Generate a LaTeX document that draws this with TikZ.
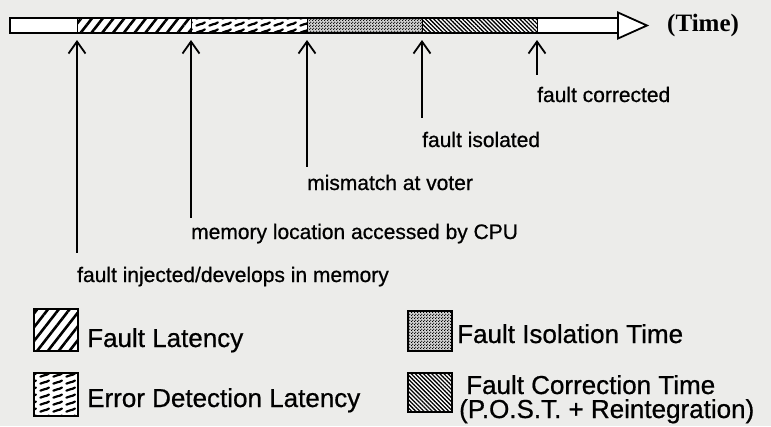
\documentclass[tikz,border=0pt]{standalone}
\usepackage{fontspec}
\setmainfont{Liberation Sans}[FakeBold=0.7]
\newfontfamily\timefont{Liberation Serif}
\usetikzlibrary{arrows.meta,patterns,patterns.meta}

\definecolor{paper}{RGB}{236,236,234}

% short wavy dashes (error detection latency)
\pgfdeclarepatternformonly{detectdash}{\pgfqpoint{0pt}{0pt}}{\pgfqpoint{13pt}{7pt}}{\pgfqpoint{13pt}{7pt}}{
  \pgfsetlinewidth{2.4pt}\pgfsetroundcap
  \pgfpathmoveto{\pgfqpoint{1.5pt}{1.5pt}}
  \pgfpathcurveto{\pgfqpoint{4pt}{3.8pt}}{\pgfqpoint{7pt}{2.2pt}}{\pgfqpoint{10.5pt}{5pt}}
  \pgfusepath{stroke}
}
% stipple (fault isolation time)
\pgfdeclarepatternformonly{isodots}{\pgfqpoint{0pt}{0pt}}{\pgfqpoint{3pt}{3pt}}{\pgfqpoint{3pt}{3pt}}{
  \pgfpathcircle{\pgfqpoint{0.75pt}{0.75pt}}{0.85pt}
  \pgfpathcircle{\pgfqpoint{2.25pt}{2.25pt}}{0.85pt}
  \pgfusepath{fill}
}

\begin{document}
\begin{tikzpicture}[x=1pt,y=-1pt]

  \tikzstyle{latency}=[preaction={fill=white},pattern={Lines[angle=52,distance=8.5pt,line width=2.6pt]}]
  \tikzstyle{detect}=[preaction={fill=white},pattern=detectdash]
  \tikzstyle{isolate}=[preaction={fill=gray!35},pattern=isodots]
  \tikzstyle{correct}=[preaction={fill=white},pattern={Lines[angle=-45,distance=2.9pt,line width=1.3pt]}]
  \tikzstyle{evt}=[line width=1.8pt,-{Straight Barb[length=12pt,width=17pt,line width=1.8pt]}]
  \tikzstyle{evlabel}=[anchor=base west,inner sep=0pt,font=\fontsize{21}{24}\selectfont]
  \tikzstyle{legbox}=[draw,line width=2.2pt,minimum width=44pt,inner sep=0pt]
  \tikzstyle{legtext}=[anchor=base west,inner sep=0pt,font=\fontsize{26}{28}\selectfont]

  % ====================
  % Parameters
  % ====================
  \def\bartop{18}   % Top of the time bar
  \def\barbot{33}   % Bottom of the time bar
  \def\tipy{40}     % Height of the event arrow tips
  % ====================

  \fill[paper] (0,0) rectangle (771,426);
  \useasboundingbox (0,0) rectangle (771,426);

  % ====================
  % Time bar
  % ====================
  \fill[white] (10,\bartop) rectangle (618,\barbot);
  \fill[latency] (77,\bartop) rectangle (191,\barbot);
  \fill[detect] (191,\bartop) rectangle (307,\barbot);
  \fill[isolate] (307,\bartop) rectangle (422,\barbot);
  \fill[correct] (422,\bartop) rectangle (537,\barbot);
  \foreach \x in {77,191,307,422,537}
    \draw[line width=1pt] (\x,\bartop) -- (\x,\barbot);
  \draw[line width=2pt] (10,\bartop) rectangle (618,\barbot);
  \draw[line width=1.8pt,fill=white,line join=miter] (618,12.5) -- (647,25.5) -- (618,38.5) -- cycle;
  \node (timelbl) [anchor=west,inner sep=0pt,font=\timefont\bfseries\fontsize{25}{28}\selectfont] at (667,25.5) {(Time)};

  % ====================
  % Events
  % ====================
  \coordinate (t1) at (77,\tipy);
  \coordinate (t2) at (191,\tipy);
  \coordinate (t3) at (307,\tipy);
  \coordinate (t4) at (422,\tipy);
  \coordinate (t5) at (537,\tipy);

  \node (inject) [evlabel] at (77,282) {fault injected/develops in memory};
  \node (access) [evlabel] at (191,239) {memory location accessed by CPU};
  \node (voter) [evlabel] at (307,190) {mismatch at voter};
  \node (isolated) [evlabel] at (422,147) {fault isolated};
  \node (corrected) [evlabel] at (537,102) {fault corrected};

  \draw[evt] ([yshift=14pt]inject.north west) -- (t1);
  \draw[evt] ([yshift=6pt]access.north west) -- (t2);
  \draw[evt] ([yshift=8pt]voter.north west) -- (t3);
  \draw[evt] ([yshift=14pt]isolated.north west) -- (t4);
  \draw[evt] ([yshift=12pt]corrected.north west) -- (t5);

  % ====================
  % Legend
  % ====================
  \node (latbox) [legbox,latency,minimum height=42pt] at (56,330) {};
  \node (latlbl) [legtext] at (87,347) {Fault Latency};

  \node (detbox) [legbox,detect,minimum height=43pt] at (56,394.5) {};
  \node (detlbl) [legtext] at (87,407) {Error Detection Latency};

  \node (isobox) [legbox,isolate,minimum height=40pt] at (430,331) {};
  \node (isolbl) [legtext] at (457,343) {Fault Isolation Time};

  \node (corbox) [legbox,correct,minimum height=39pt] at (430,392.5) {};
  \node (corlbl) [legtext] at (466,394) {Fault Correction Time};
  \node (postlbl) [legtext] at (459,418) {(P.O.S.T. + Reintegration)};
\end{tikzpicture}
\end{document}
